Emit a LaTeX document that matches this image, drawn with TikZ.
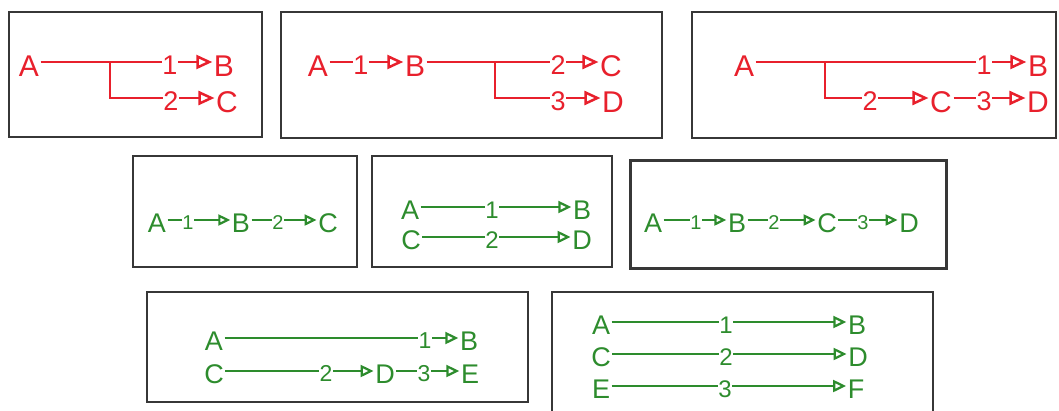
\documentclass[tikz,border=0pt]{standalone}
\usepackage{fontspec}
\setmainfont{Liberation Sans}
\usetikzlibrary{arrows.meta}
\definecolor{myred}{RGB}{232,32,44}
\definecolor{mygreen}{RGB}{45,140,45}
\definecolor{frm}{RGB}{55,55,55}
\begin{document}
\begin{tikzpicture}[x=1pt,y=-1pt,
  frame/.style={draw=frm,line width=2pt},
  rlet/.style={text=myred,font=\fontsize{30}{30}\selectfont,text height=28pt,text depth=0pt,inner sep=1.5pt},
  rdig/.style={text=myred,font=\fontsize{27}{27}\selectfont,text height=25pt,text depth=0pt,inner sep=0.5pt},
  rline/.style={draw=myred,line width=2.5pt},
  rarr/.style={rline,-{Triangle[open,length=16pt,width=14pt,line width=2.5pt]}},
  glet/.style 2 args={text=mygreen,font=\fontsize{#1}{#1}\selectfont,text height=#2,text depth=0pt,inner sep=1.5pt},
  gdig/.style 2 args={text=mygreen,font=\fontsize{#1}{#1}\selectfont,text height=#2,text depth=0pt,inner sep=0.5pt},
  gline/.style={draw=mygreen,line width=2.2pt},
  garrs/.style={gline,-{Triangle[open,length=12pt,width=11pt,line width=2.2pt]}},
  garr/.style={gline,-{Triangle[open,length=13pt,width=12pt,line width=2.2pt]}}
]
\useasboundingbox (0,0) rectangle (1059,410);

% frames
\draw[frame] (9,12) rectangle (262,137);
\draw[frame] (281,12) rectangle (662,138);
\draw[frame] (692,12) rectangle (1056,138);
\draw[frame] (133,156) rectangle (357,267);
\draw[frame] (372,156) rectangle (612,267);
\draw[frame,line width=3pt] (630,160) rectangle (946,268);
\draw[frame] (147,292) rectangle (528,402);
\draw[frame] (552,412) -- (552,292) -- (933,292) -- (933,412);

% ---- box 1
\node[rlet] (a1) at (29,62) {A};
\node[rdig] (a1n1) at (170,62) {1};
\node[rlet] (a1B) at (224,62) {B};
\node[rdig] (a1n2) at (171,98) {2};
\node[rlet] (a1C) at (227,98) {C};
\coordinate (a1j) at (110,62);
\draw[rline] (a1) -- (a1n1);
\draw[rarr] (a1n1) -- (a1B);
\draw[rline] (a1j) |- (a1n2);
\draw[rarr] (a1n2) -- (a1C);

% ---- box 2
\node[rlet] (b2A) at (318,62) {A};
\node[rdig] (b2n1) at (361,62) {1};
\node[rlet] (b2B) at (415,62) {B};
\node[rdig] (b2n2) at (558,62) {2};
\node[rlet] (b2C) at (611,62) {C};
\node[rdig] (b2n3) at (558,98) {3};
\node[rlet] (b2D) at (613,98) {D};
\coordinate (b2j) at (495,62);
\draw[rline] (b2A) -- (b2n1);
\draw[rarr] (b2n1) -- (b2B);
\draw[rline] (b2B) -- (b2n2);
\draw[rarr] (b2n2) -- (b2C);
\draw[rline] (b2j) |- (b2n3);
\draw[rarr] (b2n3) -- (b2D);

% ---- box 3
\node[rlet] (c3A) at (744,62) {A};
\node[rdig] (c3n1) at (984,62) {1};
\node[rlet] (c3B) at (1038,62) {B};
\node[rdig] (c3n2) at (870,98) {2};
\node[rlet] (c3C) at (941,98) {C};
\node[rdig] (c3n3) at (984,98) {3};
\node[rlet] (c3D) at (1038,98) {D};
\coordinate (c3j) at (825,62);
\draw[rline] (c3A) -- (c3n1);
\draw[rarr] (c3n1) -- (c3B);
\draw[rline] (c3j) |- (c3n2);
\draw[rarr] (c3n2) -- (c3C);
\draw[rline] (c3C) -- (c3n3);
\draw[rarr] (c3n3) -- (c3D);

% ---- box 4
\node[glet={27}{25pt}] (d4A) at (157,220) {A};
\node[gdig={20}{18.6pt}] (d4n1) at (188,220) {1};
\node[glet={27}{25pt}] (d4B) at (241,220) {B};
\node[gdig={20}{18.6pt}] (d4n2) at (278,220) {2};
\node[glet={27}{25pt}] (d4C) at (328,220) {C};
\draw[gline] (d4A) -- (d4n1);
\draw[garrs] (d4n1) -- (d4B);
\draw[gline] (d4B) -- (d4n2);
\draw[garrs] (d4n2) -- (d4C);

% ---- box 5
\node[glet={27}{25pt}] (e5A) at (410,207) {A};
\node[gdig={24}{22.3pt}] (e5n1) at (492,207) {1};
\node[glet={27}{25pt}] (e5B) at (582,207) {B};
\node[glet={27}{25pt}] (e5C) at (411,237) {C};
\node[gdig={24}{22.3pt}] (e5n2) at (492,237) {2};
\node[glet={27}{25pt}] (e5D) at (582,237) {D};
\draw[gline] (e5A) -- (e5n1);
\draw[garr] (e5n1) -- (e5B);
\draw[gline] (e5C) -- (e5n2);
\draw[garr] (e5n2) -- (e5D);

% ---- box 6
\node[glet={27}{25pt}] (f6A) at (653,220) {A};
\node[gdig={20}{18.6pt}] (f6n1) at (696,220) {1};
\node[glet={27}{25pt}] (f6B) at (737,220) {B};
\node[gdig={20}{18.6pt}] (f6n2) at (774,220) {2};
\node[glet={27}{25pt}] (f6C) at (827,220) {C};
\node[gdig={20}{18.6pt}] (f6n3) at (863,220) {3};
\node[glet={27}{25pt}] (f6D) at (909,220) {D};
\draw[gline] (f6A) -- (f6n1);
\draw[garrs] (f6n1) -- (f6B);
\draw[gline] (f6B) -- (f6n2);
\draw[garrs] (f6n2) -- (f6C);
\draw[gline] (f6C) -- (f6n3);
\draw[garrs] (f6n3) -- (f6D);

% ---- box 7
\node[glet={27}{25pt}] (g7A) at (214,338) {A};
\node[gdig={23}{21.4pt}] (g7n1) at (425,338) {1};
\node[glet={27}{25pt}] (g7B) at (469,338) {B};
\node[glet={27}{25pt}] (g7C) at (214,371) {C};
\node[gdig={23}{21.4pt}] (g7n2) at (326,371) {2};
\node[glet={27}{25pt}] (g7D) at (385,371) {D};
\node[gdig={23}{21.4pt}] (g7n3) at (424,371) {3};
\node[glet={27}{25pt}] (g7E) at (470,371) {E};
\draw[gline] (g7A) -- (g7n1);
\draw[garr] (g7n1) -- (g7B);
\draw[gline,line width=2.8pt] (g7C) -- (g7n2);
\draw[garr] (g7n2) -- (g7D);
\draw[gline] (g7D) -- (g7n3);
\draw[garr] (g7n3) -- (g7E);

% ---- box 8
\node[glet={27}{25pt}] (h8A) at (601,322) {A};
\node[gdig={24}{22.3pt}] (h8n1) at (726,322) {1};
\node[glet={27}{25pt}] (h8B) at (857,322) {B};
\node[glet={27}{25pt}] (h8C) at (601,354) {C};
\node[gdig={24}{22.3pt}] (h8n2) at (726,354) {2};
\node[glet={27}{25pt}] (h8D) at (858,354) {D};
\node[glet={27}{25pt}] (h8E) at (601,386) {E};
\node[gdig={24}{22.3pt}] (h8n3) at (725,386) {3};
\node[glet={27}{25pt}] (h8F) at (856,386) {F};
\draw[gline] (h8A) -- (h8n1);
\draw[garr] (h8n1) -- (h8B);
\draw[gline,line width=2.8pt] (h8C) -- (h8n2);
\draw[garr,line width=2.8pt] (h8n2) -- (h8D);
\draw[gline,line width=1.6pt] (h8E) -- (h8n3);
\draw[garr] (h8n3) -- (h8F);
\end{tikzpicture}
\end{document}
